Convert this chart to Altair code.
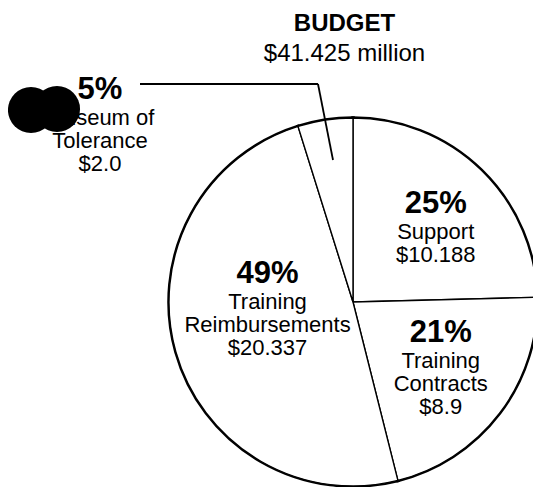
import altair as alt
import pandas as pd

# ---- data ----
categories = ["Support", "Training Contracts", "Training Reimbursements", "Museum of Tolerance"]
amounts = [10.188, 8.9, 20.337, 2.0]          # $ million
pct_labels = ["25%", "21%", "49%", "5%"]
label_line1 = ["Support", "Training", "Training", "Museum of"]
label_line2 = ["$10.188", "Contracts", "Reimbursements", "Tolerance"]
label_line3 = ["", "$8.9", "$20.337", "$2.0"]
title_text = "BUDGET"
subtitle_text = "$41.425 million"

df = pd.DataFrame({
    "category": categories,
    "amount": amounts,
    "pct": pct_labels,
    "line1": label_line1,
    "line2": label_line2,
    "line3": label_line3,
    "rank": list(range(len(categories))),
})

# ---- layout / style ----
FONT = "Liberation Sans"
CX, CY, R = 345, 224, 184
# label anchor (radius px, theta offset rad) per slice, relative to slice mid-angle
label_pos = {
    "Support": (128, -0.070),
    "Training Contracts": (93, -0.311),
    "Training Reimbursements": (90, 0.593),
    "Museum of Tolerance": (330, -0.722),
}

base = alt.Chart(df).encode(
    theta=alt.Theta("amount:Q", stack=True),
    order=alt.Order("rank:Q"),
    x=alt.value(CX),
    y=alt.value(CY),
)

layers = [
    base.mark_arc(outerRadius=R, fill="white", stroke="black", strokeWidth=3.5),
    base.mark_arc(outerRadius=R, fill="white", stroke="black", strokeWidth=1.4),
]

# mid-angle of each slice (in amount units, same theta scale as the arcs)
lab = (
    alt.Chart(df)
    .transform_window(cum="sum(amount)", sort=[alt.SortField("rank")], frame=[None, 0])
    .transform_calculate(mid="datum.cum - datum.amount / 2")
)

for cat in categories:
    r, off = label_pos[cat]
    one_cat = lab.transform_filter(f"datum.category === '{cat}'").encode(
        theta=alt.Theta("mid:Q", stack=None),
        x=alt.value(CX),
        y=alt.value(CY),
    )
    layers.append(
        one_cat.mark_text(radius=r, thetaOffset=off, font=FONT, fontSize=31,
                          fontWeight="bold", color="black")
        .encode(text="pct:N")
    )
    for i, fld in enumerate(["line1", "line2", "line3"]):
        layers.append(
            one_cat.mark_text(radius=r, thetaOffset=off, dy=28 + 23 * i, font=FONT,
                              fontSize=22, color="black")
            .encode(text=f"{fld}:N")
        )

one = alt.Chart(pd.DataFrame({"k": [0]}))
# leader line for the small slice
layers.append(one.mark_rule(color="black", strokeWidth=1.8).encode(
    x=alt.value(132), x2=alt.value(310), y=alt.value(6)))
layers.append(one.mark_rule(color="black", strokeWidth=1.8).encode(
    x=alt.value(310), y=alt.value(6), x2=alt.value(325), y2=alt.value(82)))
# redaction blobs
layers.append(one.mark_circle(size=2124, color="black", opacity=1).encode(
    x=alt.value(23), y=alt.value(32)))
layers.append(one.mark_circle(size=2124, color="black", opacity=1).encode(
    x=alt.value(49), y=alt.value(31)))

chart = alt.layer(*layers).properties(
    width=525,
    height=409,
    padding={"left": 0, "top": 70, "right": 0, "bottom": 0},
    autosize=alt.AutoSizeParams(type="none"),
    title=alt.TitleParams(
        text=title_text, subtitle=subtitle_text, frame="group",
        font=FONT, fontSize=24, fontWeight="bold", color="black",
        subtitleFont=FONT, subtitleFontSize=24, subtitleColor="black",
        anchor="middle", dx=74, offset=8, subtitlePadding=6,
    ),
).configure_view(stroke=None)

chart.save("out.html", embed_options={"renderer": "svg", "actions": False})
